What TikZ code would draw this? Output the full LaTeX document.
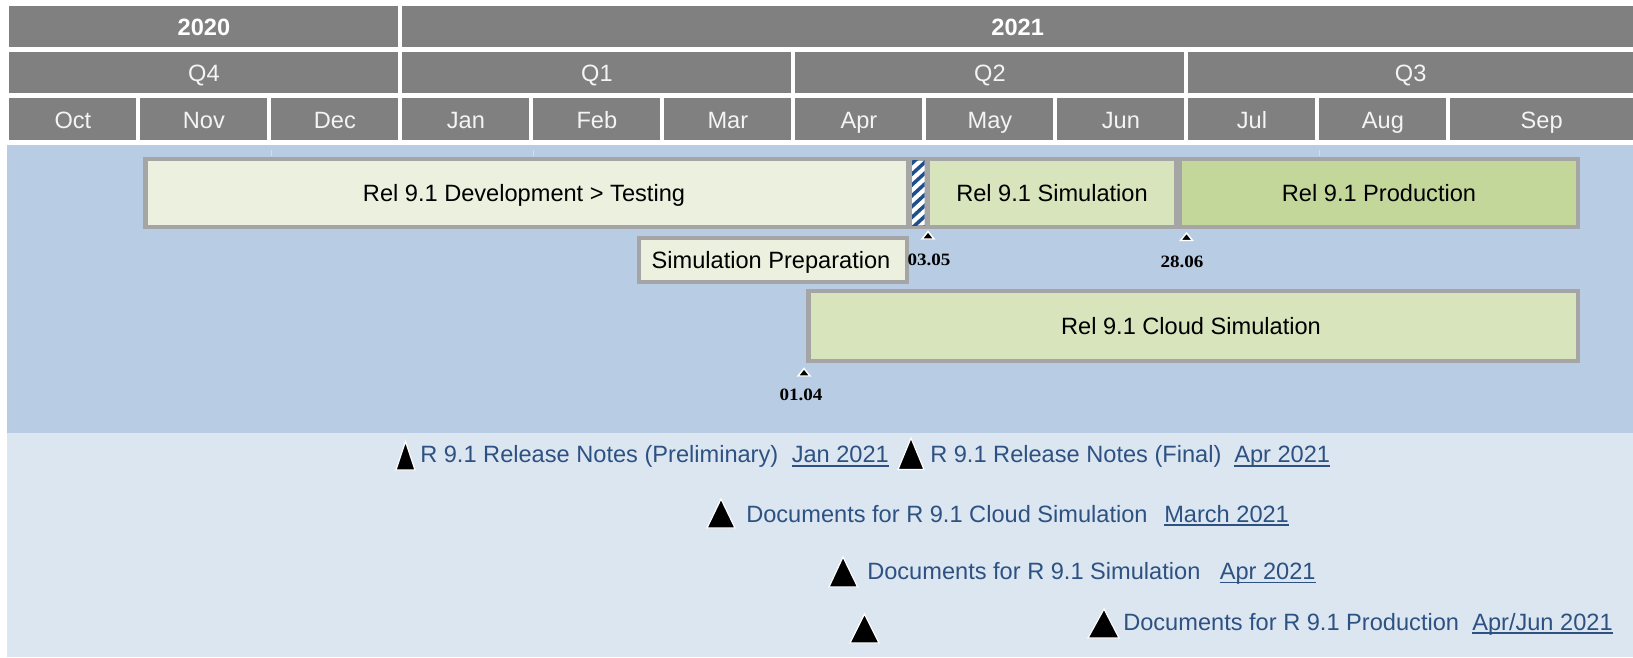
\documentclass[tikz,border=0pt]{standalone}
\usepackage{fontspec}
\setmainfont{Liberation Sans}
\newfontfamily\msfont[FakeStretch=1.1]{Liberation Serif}
\definecolor{hdr}{HTML}{808080}
\definecolor{bluebg}{HTML}{B8CCE4}
\definecolor{lightbg}{HTML}{DCE6F1}
\definecolor{barline}{HTML}{A5A5A5}
\definecolor{devfill}{HTML}{EBF1DE}
\definecolor{simfill}{HTML}{D8E4BC}
\definecolor{prodfill}{HTML}{C4D79B}
\definecolor{linkcol}{HTML}{2D5282}
\definecolor{hatchblue}{HTML}{1F4E8C}
\definecolor{tickcol}{HTML}{D4DCE6}
\definecolor{hdrtext}{HTML}{F4F4F4}
\begin{document}
\begin{tikzpicture}[x=0.75pt,y=-0.75pt,
  mainfont/.style={font=\fontsize{17.7pt}{20pt}\selectfont},
  hdrtxt/.style={mainfont,anchor=base,text=hdrtext,inner sep=0pt},
  bartxt/.style={mainfont,anchor=base,text=black,inner sep=0pt},
  msl/.style={anchor=base,inner sep=0pt,text=black,font=\msfont\bfseries\fontsize{13pt}{14pt}\selectfont},
  doctxt/.style={mainfont,anchor=base west,text=linkcol,inner sep=0pt},
  ul/.style={draw=linkcol,line width=1.1pt},
  bigtri/.style={fill=black,draw=white,line width=0.9pt,line join=miter},
  smalltri/.style={fill=black,draw=white,line width=1.1pt,line join=miter}]
\useasboundingbox (0,0) rectangle (1633,657);
\fill[white] (0,0) rectangle (1633,657);
% background bands
\fill[bluebg] (6.7,145) rectangle (1633,433);
\fill[lightbg] (6.7,433) rectangle (1633,657);
% header
\foreach \yy/\xa/\xb in {2020/9.4/398.4, 2021/402.4/1633} {
  \fill[hdr] (\xa,5.7) rectangle (\xb,46.7);
  \node[hdrtxt,text=white,font=\bfseries\fontsize{17.7pt}{20pt}\selectfont] (y\yy) at ({(\xa+\xb)/2},35.5) {\yy};
}
\foreach \q/\xa/\xb in {Q4/9.4/398.4, Q1/402.4/791.4, Q2/795.4/1184.4, Q3/1188.4/1633} {
  \fill[hdr] (\xa,51.7) rectangle (\xb,92.7);
  \node[hdrtxt] (q\q) at ({(\xa+\xb)/2},81) {\q};
}
\foreach \m/\xa/\xb in {Oct/9.4/136.4, Nov/140.4/267.4, Dec/271.4/398.4, Jan/402.4/529.4,
  Feb/533.4/660.4, Mar/664.4/791.4, Apr/795.4/922.4, May/926.4/1053.4, Jun/1057.4/1184.4,
  Jul/1188.4/1315.4, Aug/1319.4/1446.4, Sep/1450.4/1633} {
  \fill[hdr] (\xa,97.7) rectangle (\xb,140);
  \node[hdrtxt] (m\m) at ({(\xa+\xb)/2},128) {\m};
}
% faint ticks
\foreach \tx in {271.4,533.4,1319.4}
  \draw[tickcol,line width=0.75pt] (\tx,150) -- (\tx,156);
% main bar row
\fill[barline] (143,156.7) rectangle (1580,229.3);
\fill[devfill] (147.7,160.7) rectangle (906,225);
\fill[simfill] (930,160.7) rectangle (1174,225);
\fill[prodfill] (1182,160.7) rectangle (1576,225);
\begin{scope}
  \clip (912,160.7) rectangle (924.5,225);
  \fill[white] (912,160.7) rectangle (924.5,225);
  \foreach \k in {0,...,9}
    \draw[hatchblue,line width=2.6pt] (909,{166+10.8*\k}) -- (927.5,{166+10.8*\k-17});
\end{scope}
\node[bartxt] (dev) at (524,201.5) {Rel 9.1 Development > Testing};
\node[bartxt] (sim) at (1052,201.5) {Rel 9.1 Simulation};
\node[bartxt] (prod) at (1379,201.5) {Rel 9.1 Production};
% simulation preparation
\fill[barline] (637,236) rectangle (908.5,284);
\fill[devfill] (641,240) rectangle (904.5,280);
\node[bartxt] (prep) at (771,268.5) {Simulation Preparation};
% cloud simulation
\fill[barline] (806,289.3) rectangle (1580,362.7);
\fill[simfill] (810.5,293.3) rectangle (1576,358.7);
\node[bartxt] (cloud) at (1191,334.5) {Rel 9.1 Cloud Simulation};
% milestones
\draw[smalltri] (922,239) -- (928,231.5) -- (934,239) -- cycle;
\node[msl] (ms1) at (929,265) {03.05};
\draw[smalltri] (1180.5,240.5) -- (1186.5,233) -- (1192.5,240.5) -- cycle;
\node[msl] (ms2) at (1182,267.5) {28.06};
\draw[smalltri] (798,376) -- (804,368.5) -- (810,376) -- cycle;
\node[msl] (ms3) at (801,400) {01.04};
% documents
\draw[bigtri] (396,470) -- (405.5,441.5) -- (415,470) -- cycle;
\node[doctxt] (d1) at (420,462.7) {R 9.1 Release Notes (Preliminary)};
\node[doctxt] (l1) at (791.5,462.7) {Jan 2021};
\draw[bigtri] (898,469.5) -- (911,438) -- (924,469.5) -- cycle;
\node[doctxt] (d2) at (930,462.7) {R 9.1 Release Notes (Final)};
\node[doctxt] (l2) at (1234,462.7) {Apr 2021};
\draw[bigtri] (707,528) -- (721,499) -- (735,528) -- cycle;
\node[doctxt] (d3) at (746,522) {Documents for R 9.1 Cloud Simulation};
\node[doctxt] (l3) at (1164,522) {March 2021};
\draw[bigtri] (829,587) -- (843,557) -- (857.6,587) -- cycle;
\node[doctxt] (d4) at (867,579.5) {Documents for R 9.1 Simulation};
\node[doctxt] (l4) at (1219.5,579.5) {Apr 2021};
\draw[bigtri] (850,643) -- (864.5,614) -- (879,643) -- cycle;
\draw[bigtri] (1088,638) -- (1104,609) -- (1119,638) -- cycle;
\node[doctxt] (d5) at (1123,630) {Documents for R 9.1 Production};
\node[doctxt] (l5) at (1472,630) {Apr/Jun 2021};
\foreach \n in {l1,l2,l3,l4,l5}
  \draw[ul] ([yshift=-2.4pt]\n.base west) -- ([yshift=-2.4pt]\n.base east);
\end{tikzpicture}
\end{document}
